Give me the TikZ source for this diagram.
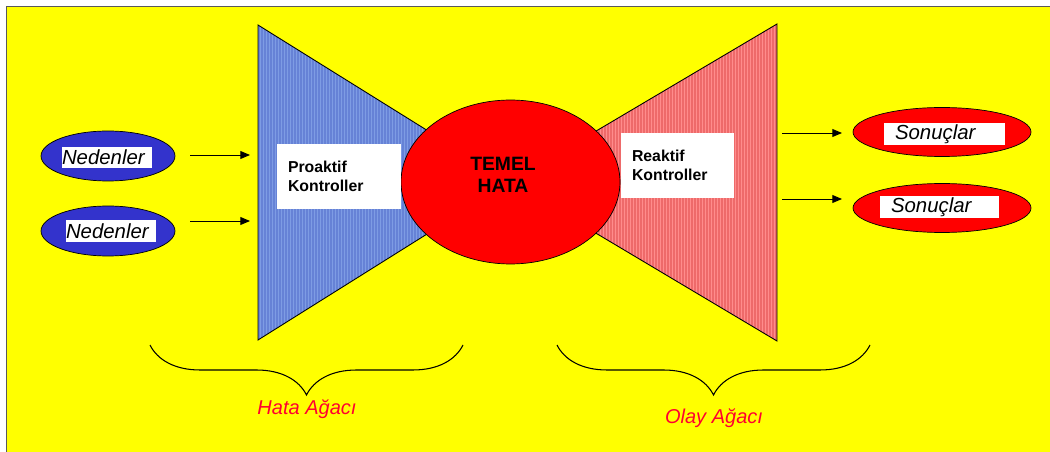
\documentclass[tikz,border=0pt]{standalone}
\usepackage{fontspec}
\setmainfont{Liberation Sans}
\usetikzlibrary{arrows.meta, shapes.geometric, decorations.pathreplacing}
\definecolor{bgyellow}{HTML}{FFFF00}
\definecolor{nedblue}{HTML}{3333CC}
\definecolor{trblue}{HTML}{7E9CE4}
\definecolor{trbluedark}{HTML}{6682D6}
\definecolor{trred}{HTML}{FF8C8C}
\definecolor{trreddark}{HTML}{EE6A6A}
\definecolor{agacred}{HTML}{FF0030}

\begin{document}
\begin{tikzpicture}[x=0.02cm, y=-0.02cm,
    oval/.style={draw=black, ellipse, fill=#1, line width=0.4pt, inner sep=0pt},
    tag/.style={fill=white, inner ysep=0pt, align=left, minimum height=0.43cm,
                font=\itshape\fontsize{11.6}{13}\selectfont},
    ctrl/.style={fill=white, inner ysep=0pt, inner xsep=0.22cm, align=left,
                 minimum height=1.3cm, font=\bfseries\fontsize{9}{11}\selectfont},
    msg/.style={-{Triangle[length=5.5pt, width=4.5pt]}, line width=0.5pt},
    stripe/.style={line width=0.6pt, #1},
    brc/.style={decorate, decoration={brace, mirror, amplitude=1cm, aspect=0.5},
                line width=0.6pt},
    agac/.style={font=\itshape\fontsize{11.4}{13}\selectfont, text=agacred},
]
    \useasboundingbox (0,0) rectangle (1050,452);

    % Background
    \fill[white] (0,0) rectangle (1050,452);
    \draw[fill=bgyellow, draw=gray!70!black, line width=0.6pt] (6.5,6.5) rectangle (1060,460);

    % Hata tree (left triangle)
    \begin{scope}
        \clip (258,25) -- (258,340) -- (510,182) -- cycle;
        \fill[trblue] (250,20) rectangle (515,345);
        \foreach \x in {259,262,...,512}
            \draw[stripe=trbluedark] (\x,20) -- (\x,345);
    \end{scope}
    \draw[line width=0.5pt] (258,25) -- (258,340) -- (510,182) -- cycle;

    % Olay tree (right triangle)
    \begin{scope}
        \clip (777,24) -- (777,341) -- (510,182) -- cycle;
        \fill[trred] (505,20) rectangle (780,345);
        \foreach \x in {509,512,...,778}
            \draw[stripe=trreddark] (\x,20) -- (\x,345);
    \end{scope}
    \draw[line width=0.5pt] (777,24) -- (777,341) -- (510,182) -- cycle;

    % Top event
    \node[oval=red, minimum width=4.38cm, minimum height=3.28cm] (temel) at (510.5,182) {};
    \node[font=\bfseries\fontsize{11}{12.5}\selectfont, align=center] (temeltxt) at (503,175) {TEMEL\\HATA};

    % Controls
    \node[ctrl, text width=2.04cm] (proaktif) at (339,176.5) {Proaktif\\Kontroller};
    \node[ctrl, text width=1.82cm] (reaktif) at (677.5,165.5) {Reaktif\\Kontroller};

    % Causes
    \node[oval=nedblue, minimum width=2.68cm, minimum height=1cm] (ned1) at (108,156) {};
    \node[oval=nedblue, minimum width=2.68cm, minimum height=1cm] (ned2) at (108,231) {};
    \node[tag, inner xsep=0pt, text width=1.8cm] (ned1txt) at (107,157.5) {Nedenler};
    \node[tag, inner xsep=0pt, text width=1.8cm] (ned2txt) at (111,231) {Nedenler};

    % Consequences
    \node[oval=red, minimum width=3.56cm, minimum height=0.98cm] (son1) at (942,132) {};
    \node[oval=red, minimum width=3.56cm, minimum height=0.98cm] (son2) at (942,208) {};
    \node[tag, inner xsep=0.22cm, text width=1.98cm] (son1txt) at (944.5,134) {Sonuçlar};
    \node[tag, inner xsep=0.22cm, text width=1.94cm] (son2txt) at (939.5,207) {Sonuçlar};

    % Arrows
    \coordinate (in1s) at (190,155);  \coordinate (in1e) at (250,155);
    \coordinate (in2s) at (190,221);  \coordinate (in2e) at (250,221);
    \coordinate (out1s) at (782,133); \coordinate (out1e) at (842,133);
    \coordinate (out2s) at (782,199); \coordinate (out2e) at (842,199);
    \draw[msg] (in1s) -- (in1e);
    \draw[msg] (in2s) -- (in2e);
    \draw[msg] (out1s) -- (out1e);
    \draw[msg] (out2s) -- (out2e);

    % Braces
    \coordinate (hbl) at (150,345); \coordinate (hbr) at (463,345);
    \coordinate (obl) at (557,345); \coordinate (obr) at (870,345);
    \draw[brc] (hbl) -- (hbr);
    \draw[brc] (obl) -- (obr);
    \node[agac] (hata) at (307,409) {Hata Ağacı};
    \node[agac] (olay) at (714,418) {Olay Ağacı};
\end{tikzpicture}
\end{document}
